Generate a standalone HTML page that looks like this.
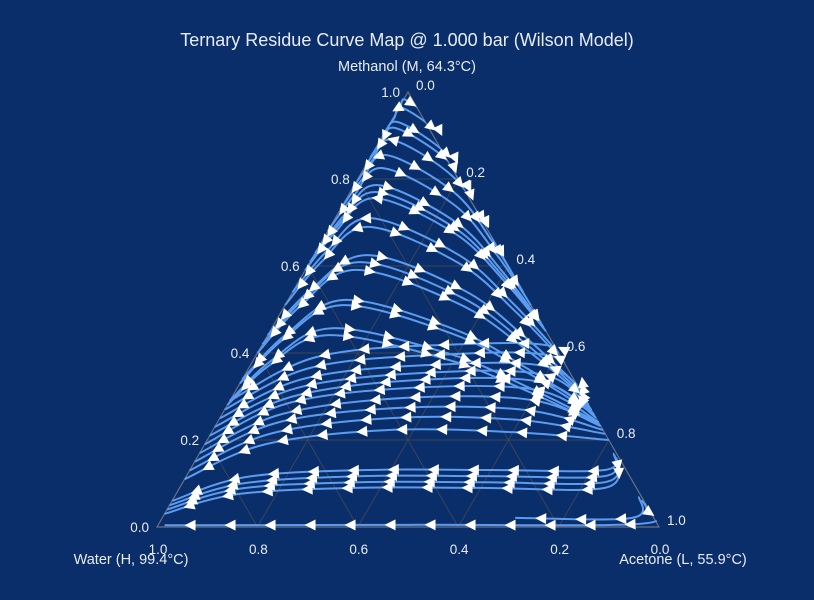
<!DOCTYPE html>
<html><head><meta charset="utf-8"><style>
html,body{margin:0;padding:0;background:#0a2e69;}
svg{display:block;font-family:"Liberation Sans",sans-serif;}
</style></head><body>
<svg id="chart" width="814" height="600" viewBox="0 0 814 600">
<defs><clipPath id="triClip"><polygon points="407,90 155,528 661,528"/></clipPath></defs>
<rect width="814" height="600" fill="#0a2e69"/>
<text x="407" y="46" fill="#e8ecf4" font-size="18" text-anchor="middle">Ternary Residue Curve Map @ 1.000 bar (Wilson Model)</text>
<text x="407" y="71" fill="#e8ecf4" font-size="14.5" text-anchor="middle">Methanol (M, 64.3°C)</text>
<text x="131" y="564" fill="#e8ecf4" font-size="14.5" text-anchor="middle">Water (H, 99.4°C)</text>
<text x="683" y="564" fill="#e8ecf4" font-size="14.5" text-anchor="middle">Acetone (L, 55.9°C)</text>
<g id="grid"></g>
<g id="curves" clip-path="url(#triClip)"></g>
<g id="arrows"></g>
<g id="ticks"></g>
</svg>
<script>
const tickValues = [0, 0.2, 0.4, 0.6, 0.8, 1.0];
const tickLabels = ["0.0","0.2","0.4","0.6","0.8","1.0"];
// Upper (arched) residue curves: peak methanol, peak acetone, methanol where curve meets water-methanol edge, methanol where it meets acetone-methanol edge
const peakM  = [.982,.963,.931,.917,.890,.855,.825,.786,.770,.756,.710,.690,.625,.609,.591,.522,.510,.457,.441];
const peakL  = [.004,.008,.014,.017,.023,.030,.037,.047,.051,.056,.069,.075,.106,.100,.100,.114,.115,.120,.120];
const leftM  = [.95,.91,.85,.83,.78,.73,.68,.63,.61,.59,.54,.51,.441,.42,.40,.34,.33,.29,.28];
const rightM = [.80,.72,.65,.62,.58,.54,.51,.47,.46,.45,.40,.38,.326,.31,.30,.27,.26,.24,.235];
// Lower (near-horizontal) curves: each point is [Methanol fraction, Acetone fraction]
const lowerCurves = [
 [[.29,0],[.39,.12],[.418,.35],[.41,.6],[.292,.708]],
 [[.27,0],[.365,.12],[.395,.35],[.39,.6],[.280,.720]],
 [[.25,0],[.34,.12],[.372,.35],[.367,.6],[.269,.731]],
 [[.23,0],[.32,.12],[.354,.35],[.349,.6],[.257,.743]],
 [[.21,0],[.30,.12],[.338,.35],[.333,.6],[.251,.749]],
 [[.19,0],[.285,.12],[.320,.35],[.315,.6],[.241,.759]],
 [[.17,0],[.26,.12],[.297,.35],[.292,.6],[.232,.768]],
 [[.15,0],[.24,.12],[.274,.35],[.269,.6],[.223,.777]],
 [[.13,0],[.215,.12],[.251,.35],[.246,.6],[.214,.786]],
 [[.11,0],[.19,.12],[.223,.35],[.218,.6],[.200,.800]],
 [[.06,0],[.115,.12],[.131,.35],[.131,.6],[.131,.826],[.17,.825]],
 [[.05,0],[.10,.12],[.117,.35],[.117,.6],[.117,.833],[.165,.83]],
 [[.04,0],[.088,.12],[.103,.35],[.103,.6],[.103,.841],[.16,.836]],
 [[.03,0],[.075,.12],[.090,.35],[.090,.6],[.090,.847],[.155,.84]],
 [[.004,.013],[.005,.5],[.007,.955],[.04,.955],[.062,.934]],
 [[.021,.703],[.021,.936],[.07,.925]]
];
const X0=157, X1=659, YB=527, H=435;
function px(p){const m=p[0],l=p[1];return [X0+(X1-X0)*(l+m/2), YB-m*H];}
// ternary control points for an arched curve
function archPoints(mp,lp,ml,mr){
  const lr=1-mr;
  return [[ml,0],[mp-.44*(mp-ml),lp*.31],[mp,lp],[mp-.27*(mp-mr),lp+.41*(lr-lp)],[mp-.63*(mp-mr),lp+.72*(lr-lp)],[mr,lr]];
}
const NS="http://www.w3.org/2000/svg";
function mk(tag,attrs,parent){const e=document.createElementNS(NS,tag);for(const k in attrs)e.setAttribute(k,attrs[k]);parent.appendChild(e);return e;}
const grid=document.getElementById('grid');
tickValues.slice(1,5).forEach(v=>{
  const a=px([v,0]),b=px([v,1-v]);
  const g1=mk('line',{x1:a[0],y1:a[1],x2:b[0],y2:b[1],stroke:'#3a4458','stroke-width':1},grid);
  
  
  const c=px([0,v]),d=px([1-v,v]);
  const g2=mk('line',{x1:c[0],y1:c[1],x2:d[0],y2:d[1],stroke:'#3a4458','stroke-width':1},grid);
  
  
  const e=px([0,1-v]),f=px([1-v,0]);
  const g3=mk('line',{x1:e[0],y1:e[1],x2:f[0],y2:f[1],stroke:'#3a4458','stroke-width':1},grid);
  
  
});
const A=px([1,0]),B=px([0,0]),C=px([0,1]);
const tri=mk('polygon',{points:`${A} ${B} ${C}`,fill:'none',stroke:'#6a7080','stroke-width':1.2},grid);


const tk=document.getElementById('ticks');
tickValues.forEach((v,i)=>{
  const p=px([v,0]);
  const t1=mk('text',{x:p[0]-8,y:p[1]+5,fill:'#e8ecf4','font-size':13.5,'text-anchor':'end'},tk);
  t1.textContent=tickLabels[i];
  
  
  const q=px([1-v,v]);
  const t2=mk('text',{x:q[0]+8,y:q[1]-2,fill:'#e8ecf4','font-size':13.5,'text-anchor':'start'},tk);
  t2.textContent=tickLabels[i];
  
  
  const r=px([0,1-v]);
  const t3=mk('text',{x:r[0]+1,y:r[1]+27,fill:'#e8ecf4','font-size':13.5,'text-anchor':'middle'},tk);
  t3.textContent=tickLabels[i];
  
  
});
function spline(pts){
  let d=`M${pts[0][0]},${pts[0][1]}`;
  for(let i=0;i<pts.length-1;i++){
    const p0=pts[Math.max(0,i-1)],p1=pts[i],p2=pts[i+1],p3=pts[Math.min(pts.length-1,i+2)];
    const c1=[p1[0]+(p2[0]-p0[0])/6,p1[1]+(p2[1]-p0[1])/6];
    const c2=[p2[0]-(p3[0]-p1[0])/6,p2[1]-(p3[1]-p1[1])/6];
    d+=` C${c1[0]},${c1[1]} ${c2[0]},${c2[1]} ${p2[0]},${p2[1]}`;
  }
  return d;
}
const cg=document.getElementById('curves'), ag=document.getElementById('arrows');
function drawCurve(curve,upper){
  const pts=curve.map(px);
  const path=mk('path',{d:spline(pts),fill:'none',stroke:'#5b9cf0','stroke-width':2},cg);
  
  
  let pk=0;pts.forEach((p,i)=>{if(p[1]<pts[pk][1])pk=i;});
  const peakX=pts[pk][0];
  const len=path.getTotalLength();
  const step=40;
  for(let s=26;s<len-8;s+=step){
    const p=path.getPointAtLength(s),q=path.getPointAtLength(Math.min(len,s+2));
    let dx=q.x-p.x,dy=q.y-p.y;
    const fwd = upper && p.x>peakX+3;
    if(!fwd){dx=-dx;dy=-dy;}
    const ang=Math.atan2(dy,dx)*180/Math.PI;
    const tr=mk('polygon',{points:'6,0 -5,-5.5 -5,5.5',fill:'#ffffff',transform:`translate(${p.x},${p.y}) rotate(${ang})`},ag);
    
    
  }
}
peakM.forEach((m,i)=>drawCurve(archPoints(m,peakL[i],leftM[i],rightM[i]),true));
lowerCurves.forEach(c=>drawCurve(c,false));
</script>
</body></html>
